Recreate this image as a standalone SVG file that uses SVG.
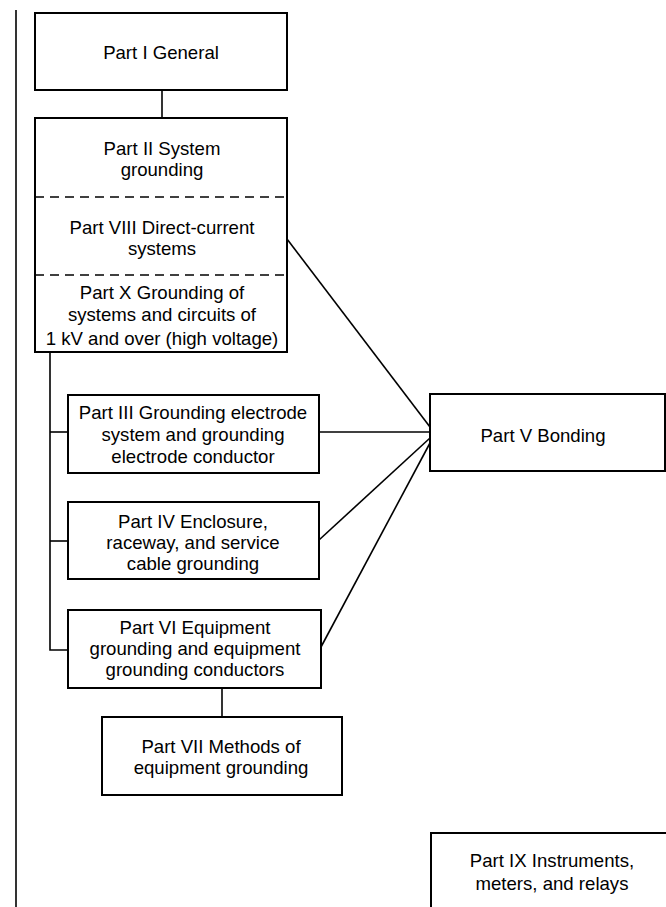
<svg xmlns="http://www.w3.org/2000/svg" width="666" height="907" viewBox="0 0 666 907">
<style>
.box{fill:#fff;stroke:#000;stroke-width:2}
.ln{fill:none;stroke:#000;stroke-width:1.6}
.dash{fill:none;stroke:#000;stroke-width:1.6;stroke-dasharray:9,6}
text{font-family:"Liberation Sans",Arial,sans-serif;font-size:18.6px;fill:#000;text-anchor:middle}
</style>
<rect width="666" height="907" fill="#fff"/>
<g id="connectors">
<line class="ln" x1="16" y1="10" x2="16" y2="907"/>
<line class="ln" x1="162" y1="90" x2="162" y2="118"/>
<polyline class="ln" points="50,352 50,650 68,650"/>
<line class="ln" x1="50" y1="432" x2="68" y2="432"/>
<line class="ln" x1="50" y1="541" x2="68" y2="541"/>
<line class="ln" x1="287" y1="239" x2="430" y2="427"/>
<line class="ln" x1="319" y1="432" x2="430" y2="432"/>
<line class="ln" x1="319" y1="540" x2="430" y2="438"/>
<line class="ln" x1="321" y1="647" x2="430" y2="443"/>
<line class="ln" x1="222" y1="688" x2="222" y2="717"/>
</g>
<g id="part1">
<rect class="box" x="35" y="13" width="252" height="77"/>
<text x="161" y="59">Part I General</text>
</g>
<g id="part2">
<rect class="box" x="35" y="118" width="252" height="234"/>
<line class="dash" x1="35" y1="197" x2="287" y2="197"/>
<line class="dash" x1="35" y1="275" x2="287" y2="275"/>
<text x="162" y="155">Part II System</text>
<text x="162" y="176">grounding</text>
<text x="162" y="234">Part VIII Direct-current</text>
<text x="162" y="255">systems</text>
<text x="162" y="299">Part X Grounding of</text>
<text x="162" y="321">systems and circuits of</text>
<text x="162" y="345">1 kV and over (high voltage)</text>
</g>
<g id="part3">
<rect class="box" x="68" y="395" width="251" height="78"/>
<text x="193" y="419">Part III Grounding electrode</text>
<text x="193" y="441">system and grounding</text>
<text x="193" y="463">electrode conductor</text>
</g>
<g id="part4">
<rect class="box" x="68" y="502" width="251" height="77"/>
<text x="193" y="528">Part IV Enclosure,</text>
<text x="193" y="549">raceway, and service</text>
<text x="193" y="570">cable grounding</text>
</g>
<g id="part6">
<rect class="box" x="68" y="610" width="253" height="78"/>
<text x="195" y="634">Part VI Equipment</text>
<text x="195" y="655">grounding and equipment</text>
<text x="195" y="676">grounding conductors</text>
</g>
<g id="part7">
<rect class="box" x="102" y="717" width="240" height="78"/>
<text x="221" y="753">Part VII Methods of</text>
<text x="221" y="774">equipment grounding</text>
</g>
<g id="part5">
<rect class="box" x="430" y="394" width="235" height="77"/>
<text x="543" y="442">Part V Bonding</text>
</g>
<g id="part9">
<rect class="box" x="431" y="833" width="240" height="90"/>
<text x="552" y="867">Part IX Instruments,</text>
<text x="552" y="890">meters, and relays</text>
</g>
</svg>
